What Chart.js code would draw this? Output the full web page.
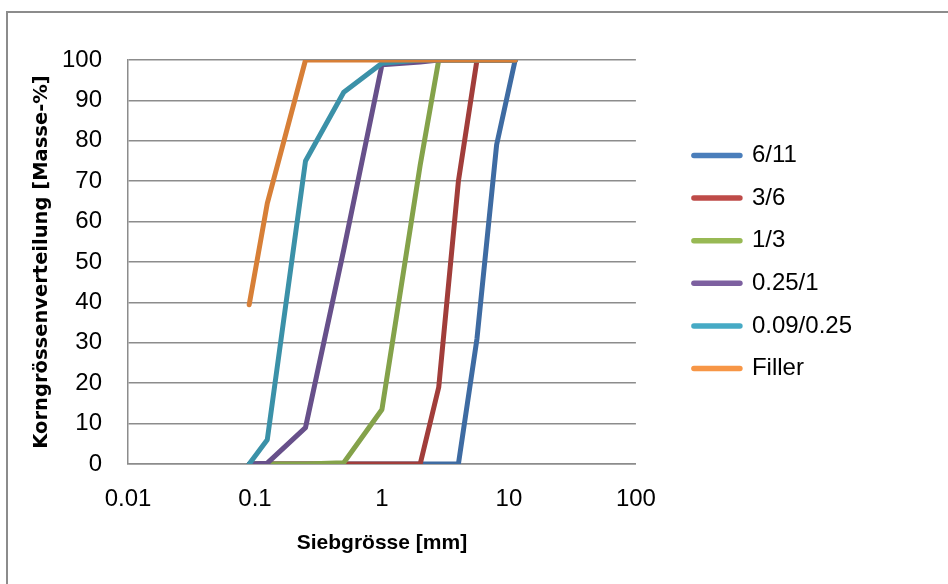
<!DOCTYPE html>
<html lang="de">
<head>
    <meta charset="UTF-8">
    <title>Korngrössenverteilung</title>
    <script src="https://cdn.jsdelivr.net/npm/chart.js"></script>
    <style>
        html, body { margin: 0; padding: 0; background: #fff; overflow: hidden; }
        .frame {
            position: absolute; left: 6px; top: 11px;
            width: 1000px; height: 700px;
            border: 2px solid #8c8c8c;
        }
        .chart-box { position: absolute; left: 0; top: 0; width: 948px; height: 584px; }
    </style>
</head>
<body>
    <div class="frame"></div>
    <div class="chart-box">
        <canvas id="siebChart" width="948" height="584"></canvas>
    </div>

    <script>
        // Siebgrössen [mm]
        const sieveSizes = [0.09, 0.125, 0.25, 0.5, 1, 2, 2.8, 4, 5.6, 8, 11.2];

        const seriesNames = ['6/11', '3/6', '1/3', '0.25/1', '0.09/0.25', 'Filler'];

        // Durchgang [Masse-%] pro Sieb
        const pass611 = [0, 0, 0, 0, 0, 0, 0, 0, 31, 79, 100];
        const pass36 = [0, 0, 0, 0, 0, 0, 19, 70, 100, 100, 100];
        const pass13 = [0, 0, 0, 0.3, 13.5, 74, 100, 100, 100, 100, 100];
        const pass0251 = [0, 0.2, 9, 53, 98.8, 99.5, 100, 100, 100, 100, 100];
        const pass009025 = [0, 6, 75, 92, 99.2, 100, 100, 100, 100, 100, 100];
        const passFiller = [39.4, 64.5, 100, 100, 100, 100, 100, 100, 100, 100, 100];

        const xTicks = [0.01, 0.1, 1, 10, 100];
        const xTickLabels = ['0.01', '0.1', '1', '10', '100'];

        const lineColors = ['#3e6ba2', '#a13d3a', '#84a24a', '#67508a', '#3b91a8', '#d77f37'];
        const legendColors = ['#4a7ebb', '#be4b48', '#98b954', '#7d60a0', '#46aac5', '#f79646'];

        const allSeries = [pass611, pass36, pass13, pass0251, pass009025, passFiller];

        const tickFont = { family: 'Liberation Sans', size: 24 };

        const datasets = allSeries.map((vals, i) => ({
            label: seriesNames[i],
            data: sieveSizes.map((x, k) => ({ x: x, y: vals[k] })),
            borderColor: lineColors[i],
            backgroundColor: lineColors[i],
            borderWidth: 5,
            borderCapStyle: 'round',
            borderJoinStyle: 'round',
            pointRadius: 0,
            pointStyle: 'line',
            tension: 0,
            order: allSeries.length - i   // Filler on top, like Excel
        }));

        const ctx = document.getElementById('siebChart').getContext('2d');
        new Chart(ctx, {
            type: 'line',
            data: { datasets: datasets },
            options: {
                responsive: false,
                animation: false,
                layout: { padding: { left: 26, top: 60, right: 86, bottom: 8 } },
                plugins: {
                    tooltip: { enabled: false },
                    legend: {
                        position: 'right',
                        fullSize: false,
                        maxWidth: 230,
                        labels: {
                            usePointStyle: true,
                            pointStyleWidth: 46,
                            padding: 18.6,
                            color: '#000',
                            font: tickFont,
                            sort: (a, b) => a.datasetIndex - b.datasetIndex,
                            generateLabels: (chart) => {
                                const items = Chart.defaults.plugins.legend.labels.generateLabels(chart);
                                items.forEach(it => {
                                    it.strokeStyle = legendColors[it.datasetIndex];
                                    it.fillStyle = legendColors[it.datasetIndex];
                                    it.lineWidth = 5.5;
                                    it.lineCap = 'round';
                                });
                                return items;
                            }
                        }
                    }
                },
                scales: {
                    x: {
                        type: 'logarithmic',
                        min: 0.01,
                        max: 100,
                        grid: { display: false, drawTicks: false },
                        border: { display: true, color: '#8c8c8c', width: 1.5 },
                        afterBuildTicks: (scale) => {
                            scale.ticks = xTicks.map(v => ({ value: v }));
                        },
                        afterFit: (scale) => { scale.height = 112; },
                        ticks: {
                            padding: 21,
                            color: '#000',
                            font: tickFont,
                            maxRotation: 0,
                            autoSkip: false,
                            callback: (value, index) => xTickLabels[index]
                        },
                        title: {
                            display: true,
                            text: 'Siebgrösse [mm]',
                            color: '#000',
                            font: { family: 'Liberation Sans', size: 21, weight: 'bold' },
                            padding: { top: 19.5, bottom: 20 }
                        }
                    },
                    y: {
                        min: 0,
                        max: 100,
                        grid: { color: '#8c8c8c', lineWidth: 1.5, drawTicks: false },
                        border: { display: true, color: '#8c8c8c', width: 1.5 },
                        afterFit: (scale) => { scale.width = 102; },
                        ticks: {
                            stepSize: 10,
                            padding: 26,
                            color: '#000',
                            font: tickFont
                        },
                        title: {
                            display: true,
                            text: 'Korngrössenverteilung [Masse-%]',
                            color: '#000',
                            font: { family: 'DejaVu Sans', size: 19.5, weight: 'bold' },
                            padding: { top: 4, bottom: 12.5 }
                        }
                    },
                    // empty spacer between plot area and legend
                    gap: {
                        type: 'linear',
                        position: 'right',
                        display: true,
                        grid: { display: false, drawOnChartArea: false },
                        border: { display: false },
                        ticks: { display: false },
                        afterFit: (scale) => { scale.width = 39.4; }
                    }
                }
            }
        });
    </script>
</body>
</html>
